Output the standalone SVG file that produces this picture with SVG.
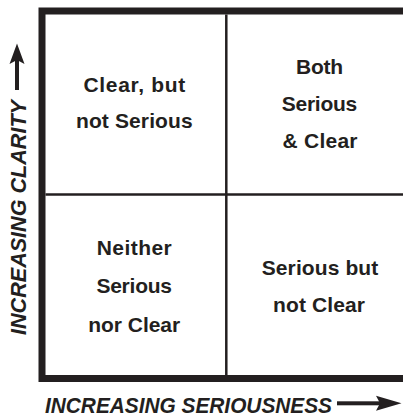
<svg xmlns="http://www.w3.org/2000/svg" width="405" height="417" viewBox="0 0 405 417">
<style>
.q{font-family:"Liberation Sans",Arial,sans-serif;font-weight:bold;font-size:21px;fill:#231f20;text-anchor:middle}
.ax{font-family:"Liberation Sans",Arial,sans-serif;font-weight:bold;font-style:italic;font-size:22.5px;fill:#231f20}
.frame{fill:none;stroke:#231f20;stroke-width:7}
.div{fill:none;stroke:#231f20;stroke-width:2.5}
.ar{fill:#231f20}
</style>
<rect width="405" height="417" fill="#ffffff"/>
<g id="frame">
<path class="frame" d="M403 11 H42 V378.5 H403"/>
<line class="div" x1="226.3" y1="14.5" x2="226.3" y2="375"/>
<line class="div" x1="45.5" y1="194.5" x2="403" y2="194.5"/>
</g>
<g id="q-top-left">
<text class="q" x="134.3" y="92.3" textLength="101.7" lengthAdjust="spacing">Clear, but</text>
<text class="q" x="134.3" y="128.3" textLength="116.7" lengthAdjust="spacing">not Serious</text>
</g>
<g id="q-top-right">
<text class="q" x="319.5" y="74" textLength="47" lengthAdjust="spacing">Both</text>
<text class="q" x="319.5" y="111" textLength="75.6" lengthAdjust="spacing">Serious</text>
<text class="q" x="320" y="147.5" textLength="75" lengthAdjust="spacing">&amp; Clear</text>
</g>
<g id="q-bottom-left">
<text class="q" x="134.2" y="255" textLength="75" lengthAdjust="spacing">Neither</text>
<text class="q" x="134.2" y="293" textLength="75.6" lengthAdjust="spacing">Serious</text>
<text class="q" x="134.2" y="331.7" textLength="92" lengthAdjust="spacing">nor Clear</text>
</g>
<g id="q-bottom-right">
<text class="q" x="320" y="275" textLength="116.6" lengthAdjust="spacing">Serious but</text>
<text class="q" x="319" y="311.7" textLength="92" lengthAdjust="spacing">not Clear</text>
</g>
<g id="connectors">
<g id="x-axis">
<text class="ax" x="45" y="413.3" textLength="287" lengthAdjust="spacingAndGlyphs">INCREASING SERIOUSNESS</text>
<rect class="ar" x="337" y="401.3" width="44" height="4"/>
<path class="ar" d="M376 395.8 L401.5 403.3 L376 410.8 L380 403.3 Z"/>
</g>
<g id="y-axis">
<text class="ax" transform="translate(26.3,335) rotate(-90)" x="0" y="0" textLength="235" lengthAdjust="spacingAndGlyphs">INCREASING CLARITY</text>
<rect class="ar" x="15" y="58" width="4" height="32"/>
<path class="ar" d="M17 43.5 L24.5 64 L17 60 L9.5 64 Z"/>
</g>
</g>
</svg>
